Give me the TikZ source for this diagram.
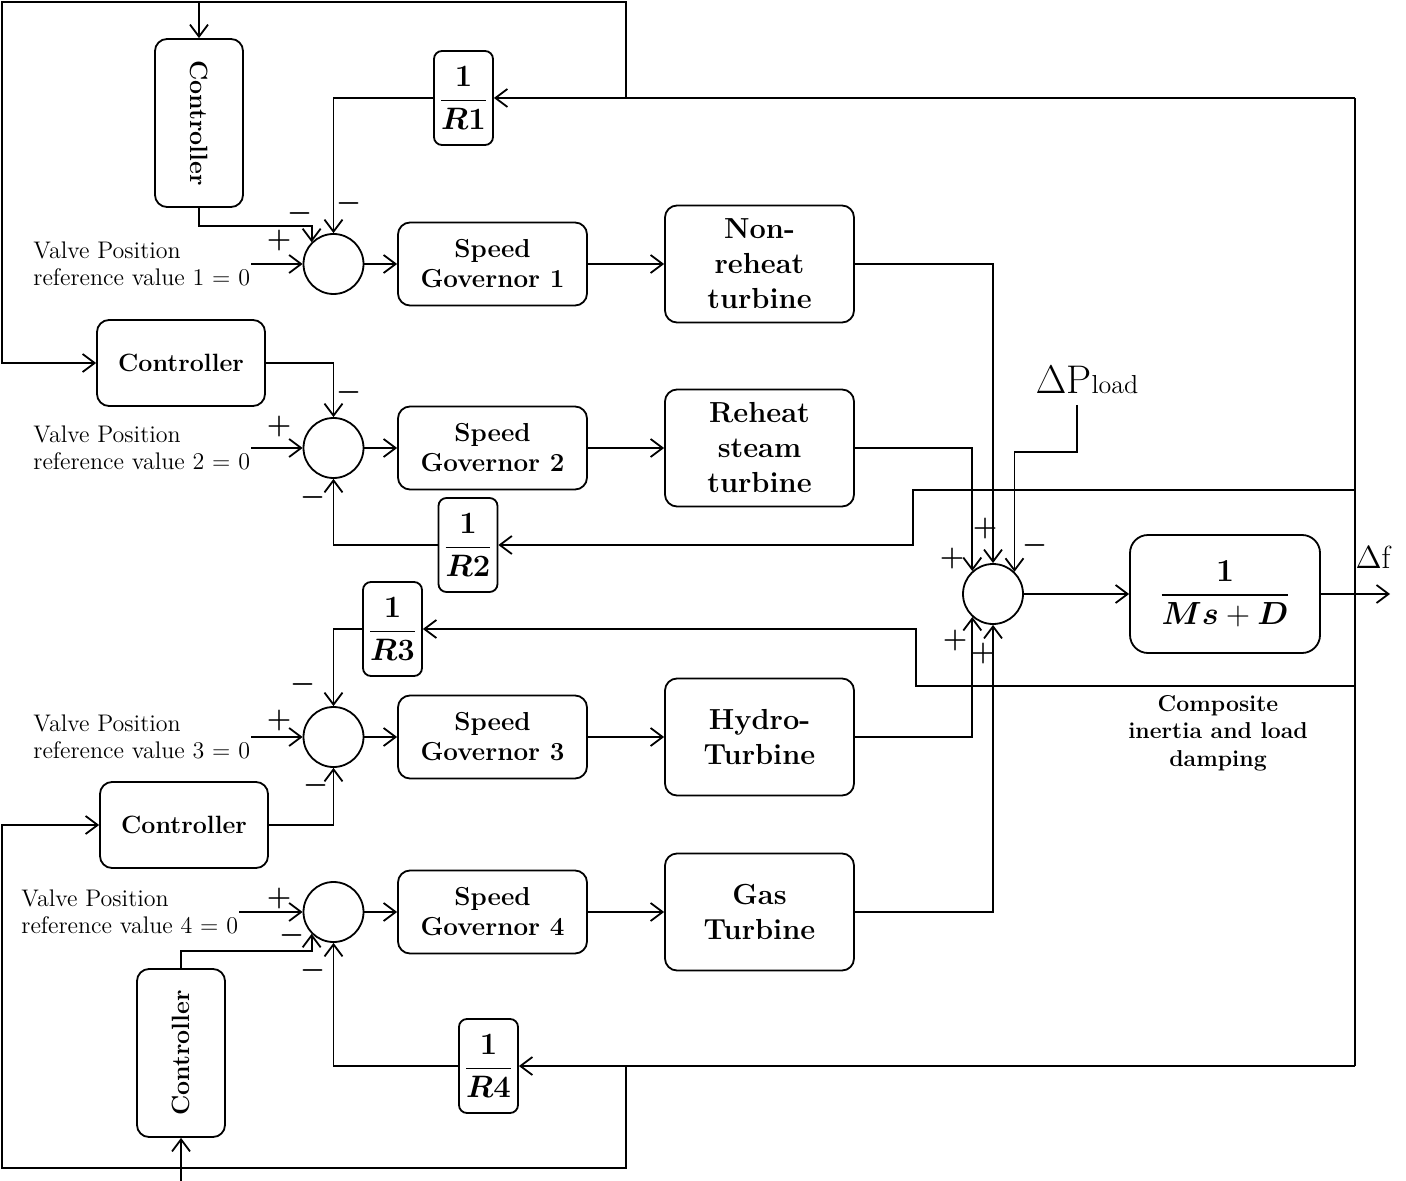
\documentclass[tikz,border=0pt]{standalone}
\usepackage{fix-cm}
\usepackage{amsmath}
\usetikzlibrary{arrows.meta,positioning}

\tikzset{
  block/.style={draw,rounded corners=6pt,align=center,inner sep=2pt},
  gov/.style={block,minimum width=94.5pt,minimum height=41.5pt,font=\fontsize{13}{15}\selectfont\bfseries},
  turb/.style={block,minimum width=94.5pt,minimum height=58.5pt,font=\fontsize{14.5}{17.5}\selectfont\bfseries},
  ctrl/.style={block,minimum width=84pt,minimum height=43pt,font=\fontsize{12.5}{14}\selectfont\bfseries},
  vctrl/.style={block,minimum width=44pt,minimum height=84pt,font=\fontsize{12.5}{14}\selectfont\bfseries},
  gain/.style={block,rounded corners=4pt,minimum width=29.5pt,minimum height=47pt,inner sep=0pt,font=\fontsize{15.5}{17}\selectfont},
  sum/.style={draw,circle,minimum size=30pt,inner sep=0pt},
  valve/.style={align=left,inner sep=0pt,anchor=east,font=\fontsize{12}{13.5}\selectfont},
  sgn/.style={inner sep=0pt,font=\fontsize{14}{14}\selectfont\boldmath},
}

\begin{document}
\begin{tikzpicture}[x=0.5pt,y=-0.5pt,>={Straight Barb[length=6pt,width=9pt]},line width=0.9pt,node distance=133.5pt]
\useasboundingbox (0,0) rectangle (1406,1181);

\node[sum]   (s1) at (333.5,264)  {};
\node[gov]   (sg1)[right of=s1,node distance=79.5pt]  {Speed\\Governor 1};
\node[turb]  (nrt)[right of=sg1]  {Non-\\reheat\\turbine};
\node[sum]   (s2) at (333.5,448)  {};
\node[gov]   (sg2)[right of=s2,node distance=79.5pt]  {Speed\\Governor 2};
\node[turb]  (rst)[right of=sg2]  {Reheat\\steam\\turbine};
\node[sum]   (s3) at (333.5,737)  {};
\node[gov]   (sg3)[right of=s3,node distance=79.5pt]  {Speed\\Governor 3};
\node[turb]  (ht)[right of=sg3]  {Hydro-\\Turbine};
\node[sum]   (s4) at (333.5,912)  {};
\node[gov]   (sg4)[right of=s4,node distance=79.5pt]  {Speed\\Governor 4};
\node[turb]  (gt)[right of=sg4]  {Gas\\Turbine};

\node[vctrl] (c1) at (199,123)  {\rotatebox{-90}{Controller}};
\node[ctrl]  (c2) at (181,363)  {Controller};
\node[ctrl]  (c3) at (184,825)  {Controller};
\node[vctrl] (c4) at (181,1053) {\rotatebox{90}{Controller}};

\node[gain]  (r1) at (463.5,98)  {$\dfrac{\mathbf{1}}{\boldsymbol{R}\mathbf{1}}$};
\node[gain]  (r2) at (468,545)   {$\dfrac{\mathbf{1}}{\boldsymbol{R}\mathbf{2}}$};
\node[gain]  (r3) at (392.5,629) {$\dfrac{\mathbf{1}}{\boldsymbol{R}\mathbf{3}}$};
\node[gain]  (r4) at (488.5,1066) {$\dfrac{\mathbf{1}}{\boldsymbol{R}\mathbf{4}}$};

\node[valve] (v1) at (251,264) {Valve Position\\reference value 1 = 0};
\node[valve] (v2) at (251,448) {Valve Position\\reference value 2 = 0};
\node[valve] (v3) at (251,737) {Valve Position\\reference value 3 = 0};
\node[valve] (v4) at (239,912) {Valve Position\\reference value 4 = 0};

\node[sum]   (s5) at (993,594) {};
\node[block,rounded corners=9pt,minimum width=95pt,minimum height=59pt,font=\fontsize{16}{18}\selectfont] (comp) at (1225,594)
  {$\dfrac{\mathbf{1}}{\boldsymbol{Ms}+\boldsymbol{D}}$};
\node[align=center,font=\fontsize{11.5}{13.75}\selectfont\bfseries] (clab) at (1218,733) {Composite\\inertia and load\\damping};
\node[inner sep=0pt] (pl) at (1087,380) {{\fontsize{20}{22}\selectfont$\Delta$P}{\fontsize{13}{15}\selectfont load}};
\node[inner sep=0pt,font=\fontsize{16}{18}\selectfont] (df) at (1373,557) {$\Delta$f};

\node[sgn] (p1a) at (279,241) {$+$};
\node[sgn] (m1a) at (300,214) {$-$};
\node[sgn] (m1b) at (349,204) {$-$};
\node[sgn] (m2a) at (349,393) {$-$};
\node[sgn] (p2a) at (279,427) {$+$};
\node[sgn] (m2b) at (313,497) {$-$};
\node[sgn] (m3a) at (303,684) {$-$};
\node[sgn] (p3a) at (279,720) {$+$};
\node[sgn] (m3b) at (316,785) {$-$};
\node[sgn] (p4a) at (279,898) {$+$};
\node[sgn] (m4a) at (292,935) {$-$};
\node[sgn] (m4b) at (313,970) {$-$};
\node[sgn] (p5a) at (985,528) {$+$};
\node[sgn] (p5b) at (952,558) {$+$};
\node[sgn] (m5a) at (1035,545) {$-$};
\node[sgn] (p5c) at (955,640) {$+$};
\node[sgn] (p5d) at (983,653) {$+$};

\coordinate (b1) at (1355,98);
\coordinate (b2) at (1355,490);
\coordinate (b3) at (1355,686);
\coordinate (b4) at (1355,1066);
\coordinate (t1) at (626,98);
\coordinate (tl) at (199,2);
\coordinate (t4) at (626,1066);
\coordinate (c4in) at (181,1181);
\coordinate (pin) at (1077,405);
\coordinate (fout) at (1390,594);

	\path[->] (v1.east) edge (s1.west)
						(s1) edge (sg1)
						(sg1) edge (nrt)
						(v2.east) edge (s2.west)
						(s2) edge (sg2)
						(sg2) edge (rst)
						(v3.east) edge (s3.west)
						(s3) edge (sg3)
						(sg3) edge (ht)
						(v4.east) edge (s4.west)
						(s4) edge (sg4)
						(sg4) edge (gt)
						(s5) edge (comp)
						(comp.east) edge (fout)
						(b1) edge (r1.east)
						(b4) edge (r4.east)
						(c4in) edge (c4.south);

\draw (b1) -- (b4);
\draw[->] (c1.south) -- ++(0,18) -| (s1.135);
\draw[->] (r1.west) -| (s1.north);
\draw[->] (c2.east) -| (s2.north);
\draw[->] (r2.west) -| (s2.south);
\draw[->] (r3.west) -| (s3.north);
\draw[->] (c3.east) -| (s3.south);
\draw[->] (c4.north) -- ++(0,-17) -| (s4.225);
\draw[->] (r4.west) -| (s4.south);
\draw[->] (b2) -- (913,490) |- (r2.east);
\draw[->] (b3) -- (916,686) |- (r3.east);
\draw[->] (t1) -- (626,2) -| (c1.north);
\draw[->] (tl) -- (2,2) |- (c2.west);
\draw[->] (t4) -- (626,1168) -- (2,1168) |- (c3.west);

\draw[->] (nrt.east) -| (s5.north);
\draw[->] (rst.east) -| (s5.132);
\draw[->] (pin) -- (1077,452) -| (s5.46);
\draw[->] (ht.east) -| (s5.228);
\draw[->] (gt.east) -| (s5.south);

\end{tikzpicture}
\end{document}
